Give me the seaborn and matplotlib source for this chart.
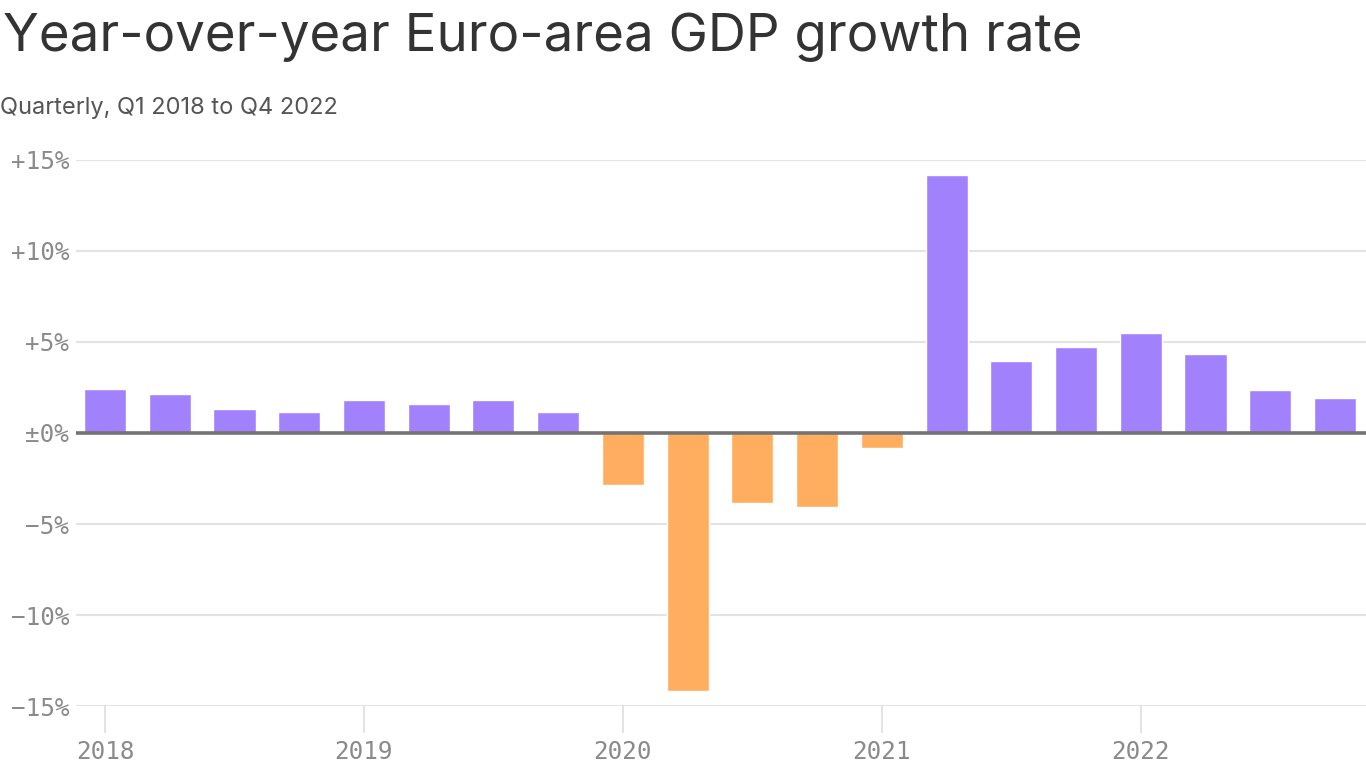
import matplotlib
matplotlib.use("Agg")
import matplotlib.pyplot as plt
import pandas as pd
import seaborn as sns

# quarterly year-over-year growth, Q1 2018 .. Q4 2022 (in %)
quarters = [f"Q{q} {y}" for y in range(2018, 2023) for q in range(1, 5)]
growth = [2.42, 2.14, 1.32, 1.15,
          1.81, 1.59, 1.81, 1.15,
          -2.86, -14.2, -3.84, -4.08,
          -0.81, 14.2, 3.93, 4.74,
          5.50, 4.34, 2.36, 1.93]
year_labels = ["2018", "2019", "2020", "2021", "2022"]
y_ticks = [-15, -10, -5, 0, 5, 10, 15]
y_tick_labels = ["\u221215%", "\u221210%", "\u22125%", "\u00b10%", "+5%", "+10%", "+15%"]

df = pd.DataFrame({"quarter": quarters, "growth": growth})
df["sign"] = ["pos" if g >= 0 else "neg" for g in growth]

sns.set_style("white")
plt.rcParams["font.family"] = ["Inter", "DejaVu Sans"]

fig = plt.figure(figsize=(13.66, 7.68), dpi=100)
ax = fig.add_axes([0.0556, 0.0807, 0.9444, 0.711])

sns.barplot(data=df, x="quarter", y="growth", hue="sign",
            palette={"pos": "#a282fc", "neg": "#ffae5f"}, saturation=1,
            dodge=False, width=0.65, legend=False, ax=ax, zorder=3)

ax.set_ylim(-15, 15)
ax.set_xlim(-0.45, 19.48)
ax.set_yticks(y_ticks)
ax.set_yticklabels(y_tick_labels)
ax.set_xticks([0, 4, 8, 12, 16])
ax.set_xticklabels(year_labels)
ax.set_xlabel("")
ax.set_ylabel("")

# gridlines and zero line
for t in y_ticks:
    if t != 0:
        ax.axhline(t, color="#e3e3e3", lw=1.5, zorder=1)
ax.axhline(0, color="#737373", lw=2.6, zorder=4)

for s in ax.spines.values():
    s.set_visible(False)

mono = "DejaVu Sans Mono"
for lab in ax.get_yticklabels() + ax.get_xticklabels():
    lab.set_family(mono)
    lab.set_fontsize(17.5)
    lab.set_color("#8a8a8a")
ax.tick_params(axis="y", left=False, length=0, pad=5)
ax.tick_params(axis="x", bottom=True, length=19.5, width=1.3, color="#e0e0e0",
               direction="out", pad=5)

fig.text(0.002, 0.952, "Year-over-year Euro-area GDP growth rate",
         fontsize=38, color="#333333", va="center", ha="left")
fig.text(0.0, 0.859, "Quarterly, Q1 2018 to Q4 2022",
         fontsize=17, color="#555555", va="center", ha="left")

fig.savefig("out.png", dpi=100)
